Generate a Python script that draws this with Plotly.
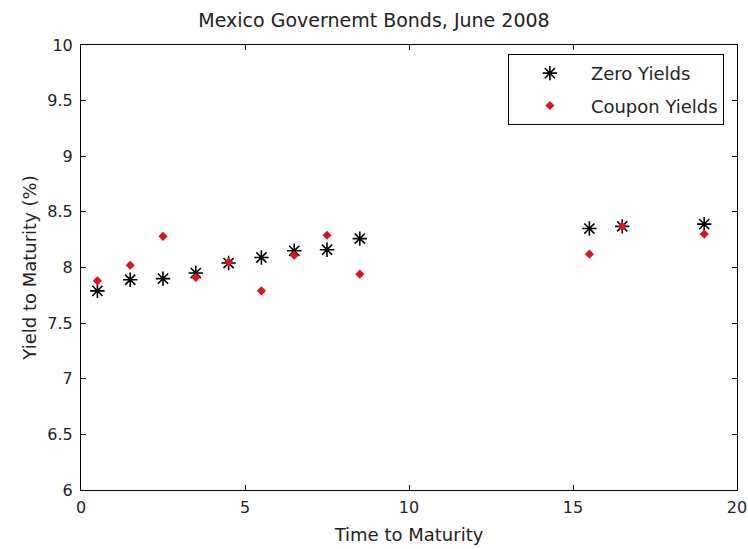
import plotly.graph_objects as go

# Maturities (years) and yields (%)
maturity = [0.5, 1.5, 2.5, 3.5, 4.5, 5.5, 6.5, 7.5, 8.5, 15.5, 16.5, 19.0]
zero_yields = [7.79, 7.89, 7.90, 7.95, 8.04, 8.09, 8.15, 8.16, 8.26, 8.35, 8.37, 8.39]
coupon_yields = [7.88, 8.02, 8.28, 7.91, 8.05, 7.79, 8.11, 8.29, 7.94, 8.12, 8.37, 8.30]

title_text = "Mexico Governemt Bonds, June 2008"
x_title = "Time to Maturity"
y_title = "Yield to Maturity (%)"

FONT = "DejaVu Sans"
TEXT = "#222"

fig = go.Figure()
fig.add_trace(go.Scatter(
    x=maturity, y=zero_yields, mode="markers", name="Zero Yields",
    legendgroup="a",
    marker=dict(symbol="asterisk-open", size=12, color="black",
                line=dict(color="black", width=1.6)),
))
fig.add_trace(go.Scatter(
    x=maturity, y=coupon_yields, mode="markers", name="Coupon Yields",
    legendgroup="b",
    marker=dict(symbol="diamond", size=7, color="rgb(222,16,36)",
                line=dict(width=0)),
))

axis_common = dict(
    showline=True, linecolor="black", linewidth=1, mirror="ticks",
    ticks="inside", ticklen=5, tickcolor="black", tickwidth=1,
    showgrid=False, zeroline=False, automargin=False,
    tickfont=dict(family=FONT, size=16, color=TEXT),
)

fig.update_layout(
    width=748, height=549,
    margin=dict(l=81, r=11, t=45, b=59),
    paper_bgcolor="white", plot_bgcolor="white",
    title=dict(text=title_text, x=0.5, xanchor="center",
               y=1 - 20 / 549, yanchor="middle", yref="container",
               font=dict(family=FONT, size=19, color=TEXT)),
    xaxis=dict(range=[0, 20], dtick=5, tick0=0, ticklabelstandoff=3,
               title=dict(text=x_title, standoff=12,
                          font=dict(family=FONT, size=18, color=TEXT)),
               **axis_common),
    yaxis=dict(range=[6, 10], dtick=0.5, tick0=6,
               ticklabelstandoff=4,
               title=dict(text=y_title, standoff=6,
                          font=dict(family=FONT, size=18, color=TEXT)),
               **axis_common),
    legend=dict(x=0.980, y=0.98, xanchor="right", yanchor="top",
                bgcolor="white", bordercolor="black", borderwidth=1,
                traceorder="grouped", tracegroupgap=6, itemwidth=72,
                font=dict(family=FONT, size=18, color=TEXT)),
    showlegend=True,
)

fig.write_html("out.html")
